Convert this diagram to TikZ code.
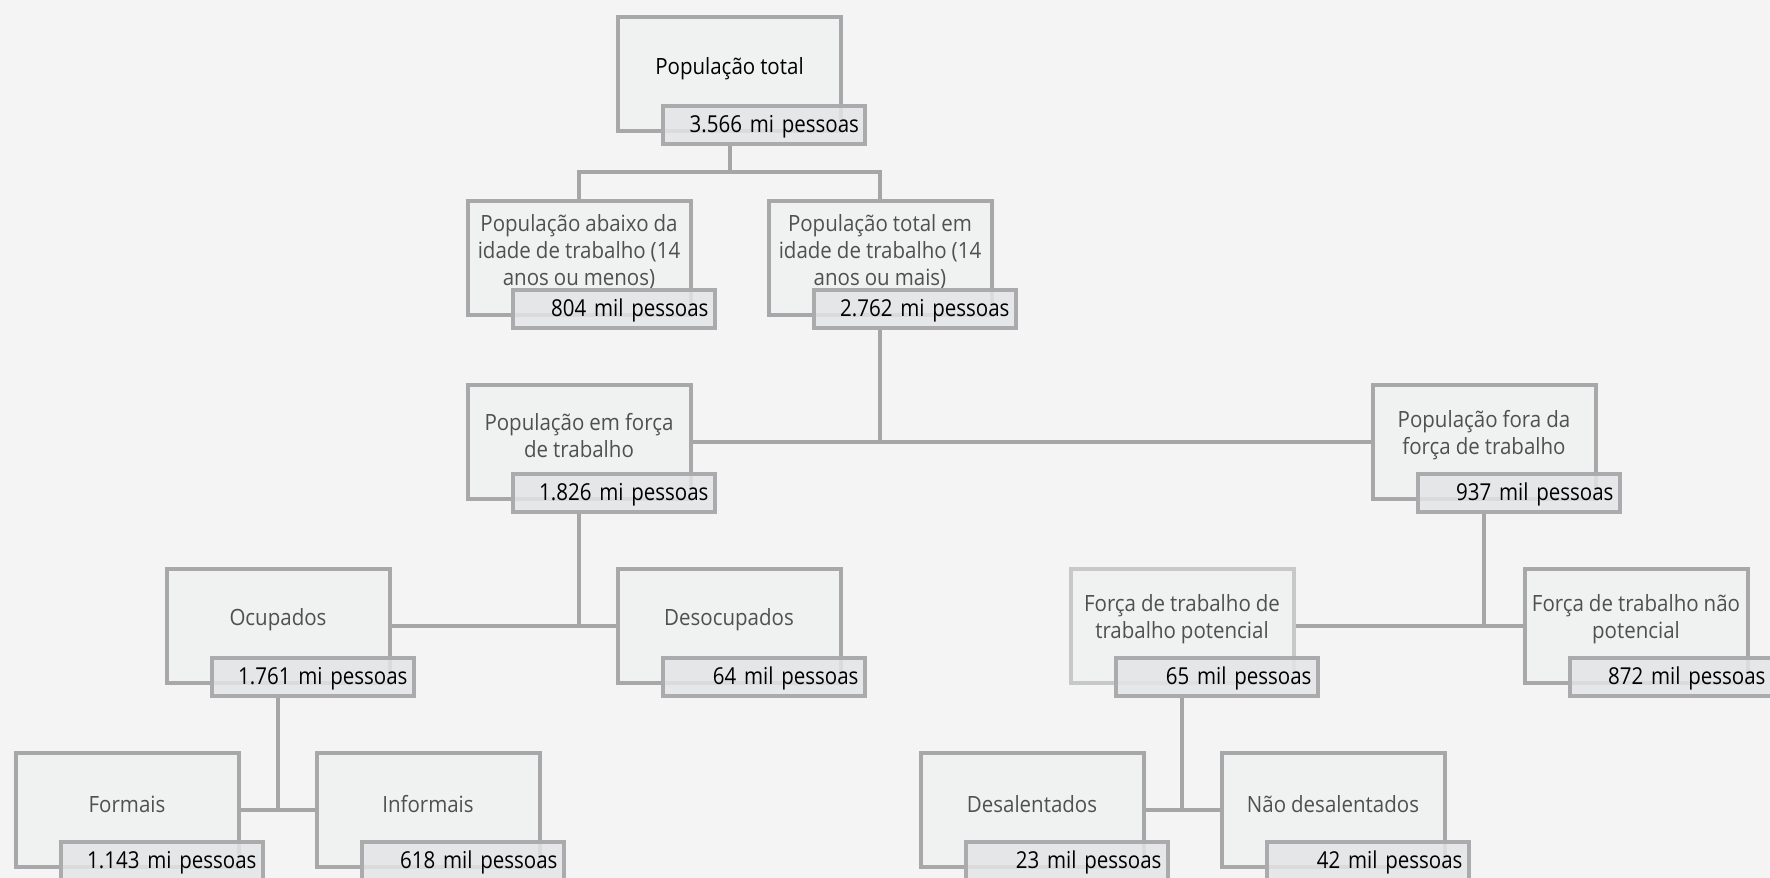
\documentclass[tikz,border=0pt]{standalone}
\usepackage{fontspec}
\setmainfont{Open Sans}
\newfontfamily\valfont[FakeStretch=0.88]{Open Sans}
\newfontfamily\lblfont[FakeStretch=0.915]{Open Sans}
\newcommand\myvalsp{\spaceskip=4.6pt plus 1pt minus 0.5pt\relax}
\newcommand\mylblsp{\spaceskip=5pt plus 1pt minus 0.5pt\relax}
\usetikzlibrary{calc,backgrounds}
\definecolor{bgc}{HTML}{F4F4F4}
\definecolor{boxfill}{HTML}{F0F1F1}
\definecolor{boxline}{HTML}{A8A8AA}
\definecolor{boxlinelight}{HTML}{C8C8C8}
\definecolor{valfill}{HTML}{E4E5E7}
\definecolor{valline}{HTML}{ABABAD}
\definecolor{connc}{HTML}{A6A6A6}
\definecolor{lblc}{HTML}{505050}
\begin{document}
\begin{tikzpicture}[x=1pt,y=-1pt,
  mainbox/.style={draw=boxline, line width=4pt, fill=boxfill, minimum width=223pt, minimum height=114pt, inner sep=0pt},
  valbox/.style={draw=valline, line width=4pt, fill=valfill, fill opacity=0.85, text opacity=1, minimum height=38pt, text width=190pt, inner xsep=6pt, inner ysep=0pt, align=right, font=\valfont\fontsize{23.3}{26}\selectfont\myvalsp, text=black, text height=21pt, text depth=4.4pt},
  lbl/.style={align=center, text=lblc, font=\lblfont\fontsize{22.4}{27}\selectfont\mylblsp, inner sep=0pt},
  connline/.style={draw=connc, line width=4pt}
]
\useasboundingbox (0,0) rectangle (1770,878);
\clip (0,0) rectangle (1770,878);

% main boxes
\node[mainbox] (b1) at (729.5,73.5) {};
\node[mainbox] (b2l) at (579,257.5) {};
\node[mainbox] (b2r) at (880,257.5) {};
\node[mainbox] (b3l) at (579,441.5) {};
\node[mainbox] (b3r) at (1484,441.5) {};
\node[mainbox] (b4a) at (278,625.5) {};
\node[mainbox] (b4b) at (729,625.5) {};
\node[mainbox, draw=boxlinelight] (b4c) at (1182,625.5) {};
\node[mainbox] (b4d) at (1636,625.5) {};
\node[mainbox] (b5a) at (127,809.5) {};
\node[mainbox] (b5b) at (428,809.5) {};
\node[mainbox] (b5c) at (1032,809.5) {};
\node[mainbox] (b5d) at (1333,809.5) {};

% labels
\node[lbl, text=black] (t1) at ($(b1.center)+(0,-4.5)$) {População total};
\node[lbl] (t2l) at ($(b2l.center)+(0,-6)$) {População abaixo da\\idade de trabalho (14\\anos ou menos)};
\node[lbl] (t2r) at ($(b2r.center)+(0,-6)$) {População total em\\idade de trabalho (14\\anos ou mais)};
\node[lbl] (t3l) at ($(b3l.center)+(0,-6)$) {População em força\\de trabalho};
\node[lbl] (t3r) at ($(b3r.center)+(0,-6)$) {População fora da\\força de trabalho};
\node[lbl] (t4a) at ($(b4a.center)+(0,-5.5)$) {Ocupados};
\node[lbl] (t4b) at ($(b4b.center)+(0,-5.5)$) {Desocupados};
\node[lbl] (t4c) at ($(b4c.center)+(0,-6)$) {Força de trabalho de\\trabalho potencial};
\node[lbl] (t4d) at ($(b4d.center)+(0,-6)$) {Força de trabalho não\\potencial};
\node[lbl] (t5a) at ($(b5a.center)+(0,-5.5)$) {Formais};
\node[lbl] (t5b) at ($(b5b.center)+(0,-5.5)$) {Informais};
\node[lbl] (t5c) at ($(b5c.center)+(0,-5.5)$) {Desalentados};
\node[lbl] (t5d) at ($(b5d.center)+(0,-5.5)$) {Não desalentados};

% value boxes
\node[valbox] (v1) at ($(b1.center)+(34.5,51)$) {3.566 mi pessoas};
\node[valbox] (v2l) at ($(b2l.center)+(34.5,51)$) {804 mil pessoas};
\node[valbox] (v2r) at ($(b2r.center)+(34.5,51)$) {2.762 mi pessoas};
\node[valbox] (v3l) at ($(b3l.center)+(34.5,51)$) {1.826 mi pessoas};
\node[valbox] (v3r) at ($(b3r.center)+(34.5,51)$) {937 mil pessoas};
\node[valbox] (v4a) at ($(b4a.center)+(34.5,51)$) {1.761 mi pessoas};
\node[valbox] (v4b) at ($(b4b.center)+(34.5,51)$) {64 mil pessoas};
\node[valbox] (v4c) at ($(b4c.center)+(34.5,51)$) {65 mil pessoas};
\node[valbox] (v4d) at ($(b4d.center)+(34.5,51)$) {872 mil pessoas};
\node[valbox] (v5a) at ($(b5a.center)+(34.5,51)$) {1.143 mi pessoas};
\node[valbox] (v5b) at ($(b5b.center)+(34.5,51)$) {618 mil pessoas};
\node[valbox] (v5c) at ($(b5c.center)+(34.5,51)$) {23 mil pessoas};
\node[valbox] (v5d) at ($(b5d.center)+(34.5,51)$) {42 mil pessoas};

\begin{pgfonlayer}{background}
\fill[bgc] (0,0) rectangle (1770,878);
\coordinate (j1) at ($(b1.center |- v1.south)!0.5!(b1.center |- b2l.north)$);
\draw[connline] (b1.center |- v1.south) -- (j1);
\draw[connline] (b2l.north) |- (j1) -| (b2r.north);
\draw[connline] (b2r.center |- v2r.south) -- (b2r.center |- b3l.center);
\draw[connline] (b3l.east) -- (b3r.west);
\draw[connline] (b3l.center |- v3l.south) -- (b3l.center |- b4a.center);
\draw[connline] (b4a.east) -- (b4b.west);
\draw[connline] (b3r.center |- v3r.south) -- (b3r.center |- b4c.center);
\draw[connline] (b4c.east) -- (b4d.west);
\draw[connline] (b4a.center |- v4a.south) -- (b4a.center |- b5a.center);
\draw[connline] (b5a.east) -- (b5b.west);
\draw[connline] (b4c.center |- v4c.south) -- (b4c.center |- b5c.center);
\draw[connline] (b5c.east) -- (b5d.west);
\end{pgfonlayer}
\end{tikzpicture}
\end{document}
